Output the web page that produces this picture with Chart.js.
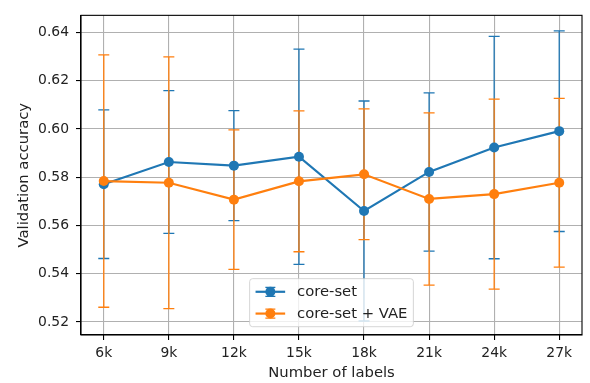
<!DOCTYPE html>
<html>
<head>
<meta charset="utf-8">
<script src="https://cdn.jsdelivr.net/npm/chart.js@4.4.0/dist/chart.umd.min.js"></script>
<style>
    html, body { margin: 0; padding: 0; background: #fff; }
    #wrap { width: 590px; height: 383px; }
</style>
</head>
<body>
<div id="wrap"><canvas id="accChart" width="590" height="383"></canvas></div>
<script>
// number of labels, in thousands
const labelCounts = [6, 9, 12, 15, 18, 21, 24, 27];
const yTicks = [0.52, 0.54, 0.56, 0.58, 0.60, 0.62, 0.64];

// core-set: mean and error (half bar)
const coreSetMean = [0.5771, 0.5863, 0.5848, 0.5885, 0.5660, 0.5822, 0.5923, 0.5991];
const coreSetErr = [0.0308, 0.0296, 0.0228, 0.0446, 0.0456, 0.0328, 0.0461, 0.0416];

// core-set + VAE
const vaeMean = [0.5784, 0.5777, 0.5707, 0.5783, 0.5812, 0.5710, 0.5730, 0.5777];
const vaeErr = [0.0523, 0.0522, 0.0289, 0.0292, 0.0271, 0.0357, 0.0394, 0.0350];

const BLUE = '#1f77b4';
const ORANGE = '#ff7f0e';
const FONT = 'DejaVu Sans';
const FS = 13.9;       // tick labels
const FS_LABEL = 14.8; // axis titles and legend

function toPoints(means) {
    return means.map((v, i) => ({ x: labelCounts[i], y: v }));
}

/**
 * 误差线: 全部画在折线之下 (按数据集顺序)
 */
const errorBarPlugin = {
    id: 'errorBars',
    beforeDatasetsDraw(chart) {
        const { ctx, chartArea: a, scales: { x, y } } = chart;
        const cap = 5.5;
        ctx.save();
        ctx.beginPath();
        ctx.rect(a.left, a.top, a.right - a.left, a.bottom - a.top);
        ctx.clip();
        ctx.lineWidth = 1.3;
        chart.data.datasets.forEach(ds => {
            ctx.strokeStyle = ds.borderColor;
            ds.data.forEach((p, i) => {
                const px = x.getPixelForValue(p.x);
                const top = y.getPixelForValue(p.y + ds.errors[i]);
                const bot = y.getPixelForValue(p.y - ds.errors[i]);
                ctx.beginPath();
                ctx.moveTo(px, top);
                ctx.lineTo(px, bot);
                ctx.moveTo(px - cap, top);
                ctx.lineTo(px + cap, top);
                ctx.moveTo(px - cap, bot);
                ctx.lineTo(px + cap, bot);
                ctx.stroke();
            });
        });
        ctx.restore();
    }
};

/**
 * 坐标框 (四边) + 图例
 */
const frameLegendPlugin = {
    id: 'frameLegend',
    afterDatasetsDraw(chart) {
        const { ctx, chartArea: a } = chart;
        ctx.save();
        ctx.strokeStyle = '#000';
        ctx.lineWidth = 1.1;
        ctx.strokeRect(a.left, a.top, a.right - a.left, a.bottom - a.top);
        ctx.restore();
    },
    afterDraw(chart) {
        const { ctx, chartArea: a } = chart;
        const items = chart.data.datasets;
        ctx.save();
        ctx.font = `${FS_LABEL}px "${FONT}"`;
        const pad = 0.4 * FS_LABEL;
        const handleLen = 2 * FS_LABEL;
        const handleGap = 0.8 * FS_LABEL;
        const textH = 14.4;
        const spacing = 0.5 * FS_LABEL;
        const maxText = Math.max(...items.map(d => ctx.measureText(d.label).width));
        const w = 2 * pad + handleLen + handleGap + maxText;
        const h = 2 * pad + items.length * textH + (items.length - 1) * spacing;
        const bx = (a.left + a.right) / 2 - w / 2;
        const by = a.bottom - 8.3 - h;

        ctx.beginPath();
        ctx.roundRect(bx, by, w, h, 3);
        ctx.fillStyle = 'rgba(255,255,255,0.8)';
        ctx.fill();
        ctx.strokeStyle = 'rgba(204,204,204,0.8)';
        ctx.lineWidth = 1;
        ctx.stroke();

        items.forEach((d, i) => {
            const cy = by + pad + i * (textH + spacing) + textH / 2;
            const hx = bx + pad;
            const mx = hx + handleLen / 2;
            ctx.strokeStyle = d.borderColor;
            ctx.lineWidth = 1.3;
            ctx.beginPath();
            ctx.moveTo(mx, cy - 4.5);
            ctx.lineTo(mx, cy + 4.5);
            ctx.moveTo(mx - 5, cy - 4.5);
            ctx.lineTo(mx + 5, cy - 4.5);
            ctx.moveTo(mx - 5, cy + 4.5);
            ctx.lineTo(mx + 5, cy + 4.5);
            ctx.stroke();
            ctx.lineWidth = 2.2;
            ctx.beginPath();
            ctx.moveTo(hx, cy);
            ctx.lineTo(hx + handleLen, cy);
            ctx.stroke();
            ctx.fillStyle = d.borderColor;
            ctx.beginPath();
            ctx.arc(mx, cy, 5, 0, Math.PI * 2);
            ctx.fill();
            ctx.fillStyle = '#222';
            ctx.textAlign = 'left';
            ctx.textBaseline = 'middle';
            ctx.fillText(d.label, hx + handleLen + handleGap, cy + 0.5);
        });
        ctx.restore();
    }
};

function makeDataset(label, means, errs, color, order) {
    return {
        label: label,
        data: toPoints(means),
        errors: errs,
        borderColor: color,
        backgroundColor: color,
        borderWidth: 2.2,
        pointRadius: 5,
        pointBorderWidth: 0,
        pointBackgroundColor: color,
        pointHoverRadius: 5,
        tension: 0,
        order: order
    };
}

const gridOpts = {
    color: '#b0b0b0',
    lineWidth: 1.1,
    tickLength: 5,
    tickColor: '#000',
    tickWidth: 1.1
};

new Chart(document.getElementById('accChart'), {
    type: 'line',
    data: {
        datasets: [
            makeDataset('core-set', coreSetMean, coreSetErr, BLUE, 1),
            makeDataset('core-set + VAE', vaeMean, vaeErr, ORANGE, 0)
        ]
    },
    options: {
        responsive: false,
        animation: false,
        devicePixelRatio: 1,
        layout: { padding: { top: 8, right: 8, left: 0, bottom: 0 } },
        plugins: {
            legend: { display: false },
            tooltip: { enabled: false }
        },
        events: [],
        scales: {
            x: {
                type: 'linear',
                min: 4.95,
                max: 28.05,
                afterBuildTicks: s => { s.ticks = labelCounts.map(v => ({ value: v })); },
                afterFit: s => { s.height = 48; },
                ticks: {
                    callback: v => v + 'k',
                    color: '#222',
                    padding: 5,
                    maxRotation: 0,
                    font: { family: FONT, size: FS }
                },
                grid: gridOpts,
                border: { color: '#000', width: 1.1 },
                title: {
                    display: true,
                    text: 'Number of labels',
                    color: '#222',
                    padding: { top: 0, bottom: 1 },
                    font: { family: FONT, size: FS_LABEL }
                }
            },
            y: {
                type: 'linear',
                min: 0.5146,
                max: 0.6471,
                afterBuildTicks: s => { s.ticks = yTicks.map(v => ({ value: v })); },
                afterFit: s => { s.width = 81; },
                ticks: {
                    callback: v => v.toFixed(2),
                    color: '#222',
                    padding: 7,
                    font: { family: FONT, size: FS }
                },
                grid: gridOpts,
                border: { color: '#000', width: 1.1 },
                title: {
                    display: true,
                    text: 'Validation accuracy',
                    color: '#222',
                    padding: { top: 15, bottom: 0 },
                    font: { family: FONT, size: FS_LABEL }
                }
            }
        }
    },
    plugins: [errorBarPlugin, frameLegendPlugin]
});
</script>
</body>
</html>
